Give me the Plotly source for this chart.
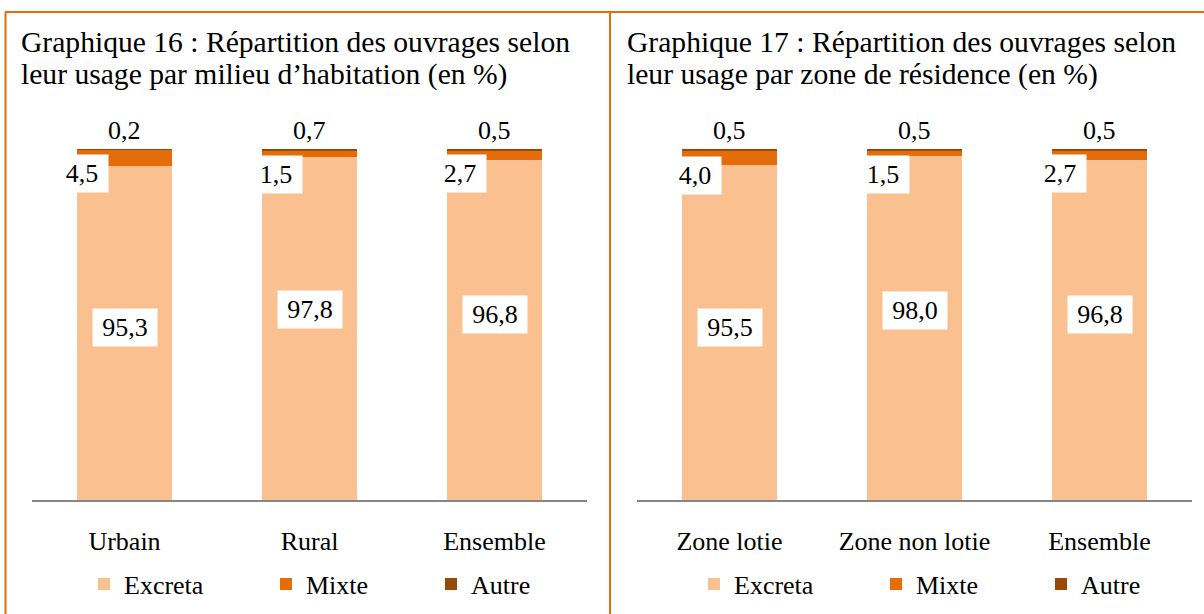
import plotly.graph_objects as go

# ---------------- data ----------------
categories_1 = ["Urbain", "Rural", "Ensemble"]
categories_2 = ["Zone lotie", "Zone non lotie", "Ensemble"]
series_names = ["Excreta", "Mixte", "Autre"]

excreta_1 = [95.3, 97.8, 96.8]
mixte_1 = [4.5, 1.5, 2.7]
autre_1 = [0.2, 0.7, 0.5]

excreta_2 = [95.5, 98.0, 96.8]
mixte_2 = [4.0, 1.5, 2.7]
autre_2 = [0.5, 0.5, 0.5]

titles_1 = ["Graphique 16 : Répartition des ouvrages selon",
            "leur usage par milieu d’habitation (en %)"]
titles_2 = ["Graphique 17 : Répartition des ouvrages selon",
            "leur usage par zone de résidence (en %)"]

# ---------------- style ----------------
W, H = 1204, 614
FONT = "Liberation Serif"
COLORS = ["#FAC090", "#E46C0A", "#984807"]
BORDER = "#E46C0A"
AXIS_GRAY = "#868686"
LABEL_SIZE = 26
TITLE_SIZE = 29.6

# label offsets (pixels) to mimic the manual placement of the reference
excreta_shift_1 = [5, 19, 16]
excreta_shift_2 = [5, 18, 16]
mixte_xshift_1 = [-43, -34, -35]
mixte_xshift_2 = [-35, -32, -40]
mixte_yshift_1 = [-16, -20, -18]
mixte_yshift_2 = [-18, -21, -18]
legend_widths = [137, 120, None]


def px_x(p):
    return p / W


def px_y(p):
    return 1 - p / H


def fmt(v):
    return f"{v:.1f}".replace(".", ",")


fig = go.Figure()

panels = [
    (categories_1, [excreta_1, mixte_1, autre_1], "x", "y", "legend"),
    (categories_2, [excreta_2, mixte_2, autre_2], "x2", "y2", "legend2"),
]

for cats, series, xa, ya, lg in panels:
    for name, vals, col, lw in zip(series_names, series, COLORS, legend_widths):
        kw = {}
        if lw is not None:
            kw["legendwidth"] = lw
        fig.add_trace(go.Bar(
            x=cats, y=vals, name=name, marker=dict(color=col, line=dict(width=0)),
            xaxis=xa, yaxis=ya, legend=lg, hoverinfo="skip", **kw))

annotations = []
lab_font = dict(family=FONT, size=LABEL_SIZE, color="black")

for (cats, series, xa, ya, lg), ex_sh, mx_xs, mx_ys in zip(
        panels, [excreta_shift_1, excreta_shift_2],
        [mixte_xshift_1, mixte_xshift_2], [mixte_yshift_1, mixte_yshift_2]):
    exc, mix, aut = series
    for i, c in enumerate(cats):
        # Excreta label (centered in segment)
        annotations.append(dict(
            x=c, y=exc[i] / 2, xref=xa, yref=ya, text=fmt(exc[i]), showarrow=False,
            font=lab_font, bgcolor="white", borderpad=4, width=56,
            yshift=ex_sh[i]))
        # Mixte label
        annotations.append(dict(
            x=c, y=exc[i] + mix[i] / 2, xref=xa, yref=ya, text=fmt(mix[i]), showarrow=False,
            font=lab_font, bgcolor="white", borderpad=4, width=44,
            xshift=mx_xs[i], yshift=mx_ys[i]))
        # Autre label (above bar)
        annotations.append(dict(
            x=c, y=exc[i] + mix[i] + aut[i], xref=xa, yref=ya, text=fmt(aut[i]),
            showarrow=False, font=lab_font, yanchor="middle", yshift=19))

# titles (two lines each)
for titles, x0 in [(titles_1, 19), (titles_2, 625)]:
    for line, yc in zip(titles, [42, 74]):
        annotations.append(dict(
            x=px_x(x0), y=px_y(yc), xref="paper", yref="paper", text=line,
            showarrow=False, xanchor="left", yanchor="middle",
            font=dict(family=FONT, size=TITLE_SIZE, color="black")))

shapes = [
    dict(type="line", xref="paper", yref="paper", x0=px_x(5), x1=1, y0=px_y(12), y1=px_y(12),
         line=dict(color=BORDER, width=2)),
    dict(type="line", xref="paper", yref="paper", x0=px_x(5.5), x1=px_x(5.5), y0=px_y(12), y1=0,
         line=dict(color=BORDER, width=2)),
    dict(type="line", xref="paper", yref="paper", x0=px_x(610), x1=px_x(610), y0=px_y(12), y1=0,
         line=dict(color=BORDER, width=2)),
]

ydom = [(H - 500) / H, (H - 149) / H]
xaxis_common = dict(showline=True, linecolor=AXIS_GRAY, linewidth=2, ticks="",
                    showgrid=False, zeroline=False, ticklabelstandoff=17,
                    tickfont=dict(family=FONT, size=LABEL_SIZE, color="black"),
                    range=[-0.5, 2.5], fixedrange=True)
yaxis_common = dict(range=[0, 100], visible=False, domain=ydom, fixedrange=True)

legend_common = dict(orientation="h", xanchor="left", yanchor="middle", y=px_y(584),
                     font=dict(family=FONT, size=LABEL_SIZE, color="black"),
                     bgcolor="rgba(0,0,0,0)", traceorder="normal")

fig.update_layout(
    width=W, height=H, autosize=False,
    margin=dict(l=0, r=0, t=0, b=0),
    paper_bgcolor="white", plot_bgcolor="white",
    barmode="stack", bargap=0.4865,
    font=dict(family=FONT, color="black"),
    xaxis=dict(domain=[px_x(32), px_x(587)], anchor="y", **xaxis_common),
    xaxis2=dict(domain=[px_x(637), px_x(1192)], anchor="y2", **xaxis_common),
    yaxis=dict(anchor="x", **yaxis_common),
    yaxis2=dict(anchor="x2", **yaxis_common),
    legend=dict(x=px_x(84), **legend_common),
    legend2=dict(x=px_x(694), **legend_common),
    annotations=annotations,
    shapes=shapes,
    showlegend=True,
)

fig.write_html("out.html", config={"displayModeBar": False},
               post_script="document.body.style.margin='0';document.body.style.overflow='hidden';")
